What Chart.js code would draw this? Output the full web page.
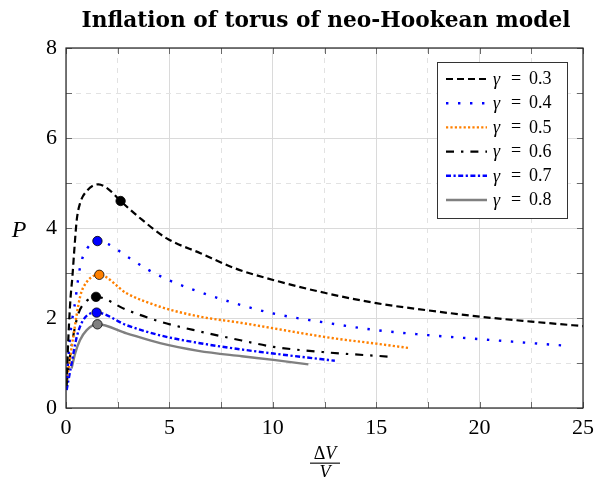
<!DOCTYPE html>
<html><head><meta charset="utf-8">
<script src="https://cdn.jsdelivr.net/npm/chart.js@4.4.1/dist/chart.umd.min.js"></script>
<style>html,body{margin:0;padding:0;background:#fff}#wrap{width:597px;height:477px}</style>
</head><body><div id="wrap"><canvas id="c" width="597" height="477"></canvas></div>
<script>
// ---- data ----
const seriesLabels = ['0.3', '0.4', '0.5', '0.6', '0.7', '0.8'];

const x03 = [0.02,0.08,0.15,0.22,0.31,0.39,0.52,0.68,1.0,1.56,2.0,2.64,3.5,4.87,6.5,8.2,10.3,12.5,15.0,17.5,20.0,22.5,25.0];
const y03 = [0.5,1.2,1.9,2.45,2.92,3.44,4.18,4.55,4.82,4.97,4.88,4.60,4.25,3.77,3.44,3.10,2.81,2.56,2.33,2.17,2.03,1.92,1.82];

const x04 = [0.02,0.12,0.25,0.44,0.63,0.76,1.03,1.52,2.05,3.01,3.98,5.03,6.08,8.0,10.03,12.5,15.02,17.5,20.02,22.0,24.0];
const y04 = [0.4,1.15,1.8,2.35,3.0,3.28,3.55,3.71,3.64,3.35,3.07,2.83,2.64,2.35,2.10,1.90,1.73,1.62,1.53,1.46,1.39];

const x05 = [0.03,0.11,0.35,0.68,1.0,1.61,2.93,4.55,6.48,8.5,10.03,12.93,15.0,16.63];
const y05 = [0.6,0.84,1.58,2.47,2.80,2.96,2.55,2.25,2.03,1.89,1.77,1.55,1.43,1.33];

const x06 = [0.02,0.15,0.35,0.6,1.0,1.45,2.93,4.55,6.48,8.5,10.03,12.5,15.67];
const y06 = [0.5,1.0,1.6,2.1,2.38,2.47,2.18,1.92,1.70,1.50,1.36,1.24,1.14];

const x07 = [0.03,0.27,0.52,0.84,1.48,2.93,4.5,6.48,8.5,10.03,13.0];
const y07 = [0.4,0.99,1.58,1.96,2.12,1.84,1.62,1.44,1.30,1.21,1.05];

const x08 = [0.27,0.44,0.68,1.0,1.52,2.93,4.55,6.4,8.5,10.03,11.72];
const y08 = [0.88,1.21,1.51,1.73,1.86,1.66,1.44,1.27,1.15,1.07,0.97];

const markerX = [2.64, 1.52, 1.61, 1.45, 1.48, 1.52];
const markerY = [4.60, 3.71, 2.96, 2.47, 2.12, 1.86];

const xTickLabels = [0, 5, 10, 15, 20, 25];
const yTickLabels = [0, 2, 4, 6, 8];

// ---- styling ----
const xs = [x03, x04, x05, x06, x07, x08];
const ys = [y03, y04, y05, y06, y07, y08];
const lineColors = ['#000000', '#0000ff', '#ff8000', '#000000', '#0000ff', '#808080'];
const markerFill = ['#000000', '#0000ff', '#ff8000', '#000000', '#0000ff', '#808080'];
const dashes = [[7, 4], [2.4, 9.6], [2.2, 2.2], [8, 7, 2.4, 7], [5, 2.5, 2.2, 2.5], []];
const widths = [2.2, 2.4, 2.4, 2.2, 2.4, 2.4];
const SERIF = '"Liberation Serif", "Times New Roman", serif';
const TITLEFONT = '"DejaVu Serif", "Liberation Serif", serif';

const datasets = [];
xs.forEach((xa, k) => {
  datasets.push({
    type: 'line',
    label: 'γ = ' + seriesLabels[k],
    data: xa.map((x, i) => ({ x: x, y: ys[k][i] })),
    borderColor: lineColors[k],
    borderWidth: widths[k],
    borderDash: dashes[k],
    borderCapStyle: 'butt',
    pointRadius: 0,
    fill: false,
    cubicInterpolationMode: 'monotone',
    order: 2
  });
});
markerX.forEach((mx, k) => {
  datasets.push({
    type: 'scatter',
    label: 'marker' + k,
    data: [{ x: mx, y: markerY[k] }],
    backgroundColor: markerFill[k],
    borderColor: '#000000',
    borderWidth: 0.8,
    pointRadius: 4.7,
    showLine: false,
    order: 1
  });
});

const decor = {
  id: 'decor',
  beforeDatasetsDraw(chart) {
    const ctx = chart.ctx, a = chart.chartArea;
    const sx = chart.scales.x, sy = chart.scales.y;
    ctx.save();
    ctx.strokeStyle = '#6a6a6a';
    ctx.lineWidth = 1;
    const tl = 6;
    for (let v = 0; v <= 25.001; v += 2.5) {
      const px = Math.round(sx.getPixelForValue(v)) + 0.5;
      ctx.beginPath();
      ctx.moveTo(px, a.bottom); ctx.lineTo(px, a.bottom - tl);
      ctx.moveTo(px, a.top); ctx.lineTo(px, a.top + tl);
      ctx.stroke();
    }
    for (let v = 0; v <= 8.001; v += 1) {
      const py = Math.round(sy.getPixelForValue(v)) + 0.5;
      ctx.beginPath();
      ctx.moveTo(a.left, py); ctx.lineTo(a.left + tl, py);
      ctx.moveTo(a.right, py); ctx.lineTo(a.right - tl, py);
      ctx.stroke();
    }
    ctx.restore();
  },
  afterDraw(chart) {
    const ctx = chart.ctx, a = chart.chartArea;
    ctx.save();
    // plot frame
    ctx.strokeStyle = '#222';
    ctx.lineWidth = 1.2;
    ctx.strokeRect(a.left, a.top, a.right - a.left, a.bottom - a.top);

    // title
    const title = 'Inflation of torus of neo-Hookean model';
    ctx.fillStyle = '#000';
    ctx.font = 'bold 20px ' + TITLEFONT;
    const w = ctx.measureText(title).width;
    const fs = 20 * 489 / w;
    ctx.font = 'bold ' + fs.toFixed(2) + 'px ' + TITLEFONT;
    ctx.textAlign = 'center';
    ctx.textBaseline = 'alphabetic';
    ctx.fillText(title, 326, 27);

    // y label P
    ctx.font = 'italic 24px ' + SERIF;
    ctx.textAlign = 'center';
    ctx.textBaseline = 'middle';
    ctx.fillText('P', 19, 231);

    // x label fraction ΔV / V
    ctx.font = '18px ' + SERIF;
    const dW = ctx.measureText('Δ').width;
    ctx.font = 'italic 18px ' + SERIF;
    const vW = ctx.measureText('V').width;
    const tot = dW + vW;
    const cx = 325;
    ctx.textAlign = 'left';
    ctx.textBaseline = 'alphabetic';
    ctx.font = '18px ' + SERIF;
    ctx.fillText('Δ', cx - tot / 2, 459);
    ctx.font = 'italic 18px ' + SERIF;
    ctx.fillText('V', cx - tot / 2 + dW, 459);
    ctx.fillText('V', cx - vW / 2, 478);
    ctx.fillRect(cx - 15, 462.6, 30, 1.1);

    // legend
    const lx = 437.5, ly = 62.5, lw = 130, lh = 156;
    ctx.fillStyle = '#fff';
    ctx.fillRect(lx, ly, lw, lh);
    ctx.strokeStyle = '#333';
    ctx.lineWidth = 1;
    ctx.strokeRect(lx, ly, lw, lh);
    for (let k = 0; k < seriesLabels.length; k++) {
      const yy = 79 + k * 24.2;
      ctx.beginPath();
      ctx.setLineDash(dashes[k]);
      ctx.strokeStyle = lineColors[k];
      ctx.lineWidth = widths[k];
      ctx.lineCap = 'butt';
      ctx.moveTo(446, yy); ctx.lineTo(487, yy);
      ctx.stroke();
      ctx.setLineDash([]);
      ctx.fillStyle = '#000';
      ctx.textBaseline = 'middle';
      ctx.textAlign = 'left';
      ctx.font = 'italic 18px ' + SERIF;
      ctx.fillText('γ', 493, yy + 1);
      ctx.font = '18px ' + SERIF;
      ctx.textAlign = 'center';
      ctx.fillText('=', 516, yy);
      ctx.textAlign = 'left';
      ctx.fillText(seriesLabels[k], 529, yy + 0.5);
    }
    ctx.restore();
  }
};

new Chart(document.getElementById('c'), {
  type: 'line',
  data: { datasets: datasets },
  options: {
    responsive: false,
    animation: false,
    events: [],
    layout: { padding: { top: 48, right: 14, left: 0, bottom: 0 } },
    plugins: { legend: { display: false }, tooltip: { enabled: false }, title: { display: false } },
    scales: {
      x: {
        type: 'linear', min: 0, max: 25,
        afterFit(s) { s.height = 69; s.paddingLeft = 0; s.paddingRight = 0; },
        afterBuildTicks(s) {
          const t = [];
          for (let v = 0; v <= 25.001; v += 2.5) t.push({ value: v });
          s.ticks = t;
        },
        ticks: {
          autoSkip: false, maxRotation: 0, minRotation: 0, padding: 7,
          color: '#000', font: { family: SERIF, size: 22 },
          callback: v => (xTickLabels.includes(v) ? String(v) : '')
        },
        grid: {
          drawTicks: false,
          color: c => (c.tick && c.tick.value % 5 === 0 ? '#dadada' : '#e2e2e2'),
          lineWidth: 1
        },
        border: { display: false, dash: c => (c.tick && c.tick.value % 5 !== 0 ? [5, 5] : []) }
      },
      y: {
        type: 'linear', min: 0, max: 8,
        afterFit(s) { s.width = 66; s.paddingTop = 0; s.paddingBottom = 0; },
        afterBuildTicks(s) {
          const t = [];
          for (let v = 0; v <= 8.001; v += 1) t.push({ value: v });
          s.ticks = t;
        },
        ticks: {
          autoSkip: false, padding: 9,
          color: '#000', font: { family: SERIF, size: 22 },
          callback: v => (yTickLabels.includes(v) ? String(v) : '')
        },
        grid: {
          drawTicks: false,
          color: c => (c.tick && c.tick.value % 2 === 0 ? '#dadada' : '#e2e2e2'),
          lineWidth: 1
        },
        border: { display: false, dash: c => (c.tick && c.tick.value % 2 !== 0 ? [5, 5] : []) }
      }
    }
  },
  plugins: [decor]
});
</script>
</body></html>
